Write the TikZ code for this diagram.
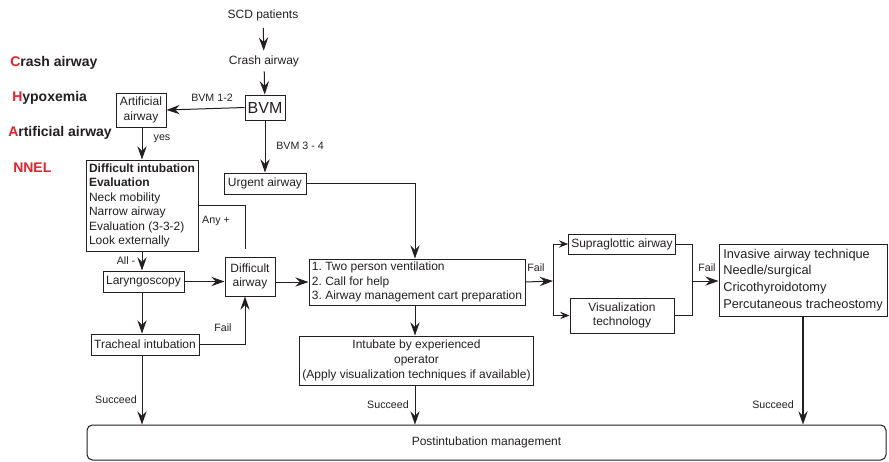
\documentclass[tikz,border=0pt]{standalone}
\usepackage{fontspec}
\setmainfont{Liberation Sans}
\usetikzlibrary{arrows.meta}
\definecolor{ChaRed}{HTML}{E8202A}
\definecolor{ChaInk}{HTML}{231F20}
\frenchspacing

\begin{document}
\begin{tikzpicture}[x=0.75pt, y=-0.75pt, font=\fontsize{9}{10.9}\selectfont, color=ChaInk,
    box/.style={draw, line width=0.75pt, inner sep=2pt, align=center},
    lbl/.style={font=\fontsize{8}{9.6}\selectfont, inner sep=1pt},
    side/.style={anchor=west, font=\fontsize{10.5}{12}\selectfont\bfseries, inner sep=0pt},
    arr/.style={line width=0.75pt, -{Stealth[length=10pt, width=7pt, inset=3.5pt]}},
    arrsmall/.style={line width=0.75pt, -{Stealth[length=7pt, width=5.5pt, inset=2.5pt]}},
    wire/.style={line width=0.75pt}]

    \useasboundingbox (0,0) rectangle (889,461);

    % CHAN mnemonic on the left
    \node (sideC) [side] at (10,63) {\textcolor{ChaRed}{C}rash airway};
    \node (sideH) [side] at (12,98) {\textcolor{ChaRed}{H}ypoxemia};
    \node (sideA) [side] at (8,133) {\textcolor{ChaRed}{A}rtificial airway};
    \node (sideN) [side] at (13,168) {\textcolor{ChaRed}{NNEL}};

    % flow nodes
    \node (SCD) at (263,15) {SCD patients};
    \node (Crash) at (264,61) {Crash airway};
    \node (BVM) [box, minimum width=30pt, minimum height=18.75pt, font=\fontsize{12}{14}\selectfont] at (265,107.5) {BVM};
    \node (Art) [box, minimum width=37.5pt, minimum height=25.5pt] at (141,110) {Artificial\\airway};
    \node (DiffEval) [box, align=left, minimum width=84pt, minimum height=68.25pt] at (142,205.5)
        {\textbf{Difficult intubation}\\\textbf{Evaluation}\\Neck mobility\\Narrow airway\\Evaluation (3-3-2)\\Look externally};
    \node (Urgent) [box, minimum width=61.5pt, minimum height=15.75pt] at (265,183.5) {Urgent airway};
    \node (Laryngo) [box, minimum width=60.75pt, minimum height=15.75pt] at (143.5,281.5) {Laryngoscopy};
    \node (DiffAirway) [box, minimum width=37.5pt, minimum height=29.25pt] at (250,276.5) {Difficult\\airway};
    \node (Prep) [box, align=left, minimum width=162pt, minimum height=34.5pt] at (417,282)
        {1. Two person ventilation\\2. Call for help\\3. Airway management cart preparation};
    \node (Tracheal) [box, minimum width=81pt, minimum height=15.75pt] at (145,344.5) {Tracheal intubation};
    \node (Intubate) [box, minimum width=174.75pt, minimum height=36.75pt, font=\fontsize{9}{11.2}\selectfont] at (416.5,360.5)
        {Intubate by experienced\\operator\\(Apply visualization techniques if available)};
    \node (Supra) [box, minimum width=79.5pt, minimum height=15pt] at (622,244) {Supraglottic airway};
    \node (Visual) [box, minimum width=78pt, minimum height=26.25pt] at (622,315.5) {Visualization\\technology};
    \node (Invasive) [box, align=left, minimum width=126pt, minimum height=54pt, font=\fontsize{9.6}{12.5}\selectfont] at (803,280)
        {Invasive airway technique\\Needle/surgical\\Cricothyroidotomy\\Percutaneous tracheostomy};
    \node (Post) [box, rounded corners=4pt, minimum width=599.25pt, minimum height=26.25pt] at (486.5,442.5) {Postintubation management};

    % connectors
    \draw [arr, shorten <=2pt] (SCD) -- (Crash);
    \draw [arr] (Crash) -- (BVM);
    \draw [arr] (BVM.west) -- (Art.east);
    \draw [arr] (Art.south -| DiffEval.north) -- (DiffEval.north);
    \draw [arr] (BVM.south) -- (Urgent.north);
    \draw [arr] (Urgent.east) -| ([xshift=-1.5pt]Prep.north);
    \coordinate (anyEnd) at (245,249);
    \draw [wire] (DiffEval.east) -| (anyEnd);
    \draw [arr] (DiffEval.south) -- (DiffEval.south |- Laryngo.north);
    \draw [arr] (Laryngo.east) -- (Laryngo.east -| DiffAirway.west);
    \draw [arr] (Prep.west -| DiffAirway.east) -- (Prep.west);
    \draw [arr] (Laryngo.south -| DiffEval.south) -- (DiffEval.south |- Tracheal.north);
    \draw [arr] (Tracheal.east) -| ([xshift=-3.75pt]DiffAirway.south);
    \draw [arr] ([xshift=-1.5pt]Prep.south) -- ([xshift=-1.5pt]Prep.south |- Intubate.north);
    \draw [arr] ([xshift=-1.5pt]Prep.south |- Intubate.south) -- ([xshift=-1.5pt]Prep.south |- Post.north);
    \draw [arr] (DiffEval.south |- Tracheal.south) -- (DiffEval.south |- Post.north);
    \coordinate (split) at (553,281);
    \draw [arr] (Prep.east) -- (split);
    \draw [wire] (split |- Supra.west) -- (split |- Visual.west);
    \draw [arrsmall] (split |- Supra.west) -- (Supra.west);
    \draw [arrsmall] (split |- Visual.west) -- (Visual.west);
    \coordinate (join) at (692,281);
    \draw [wire] (Supra.east) -| (join |- Visual.east) -- (Visual.east);
    \draw [arr] (join) -- (join -| Invasive.west);
    \draw [arr, line width=1.3pt] (Invasive.south) -- (Invasive.south |- Post.north);

    % connector labels
    \node (lblBVM12) [lbl] at (212,98) {BVM 1-2};
    \node (lblYes) [lbl] at (162,139) {yes};
    \node (lblBVM34) [lbl] at (300,146) {BVM 3 - 4};
    \node (lblAny) [lbl] at (216,221) {Any +};
    \node (lblAll) [lbl] at (126,261) {All -};
    \node (lblFailA) [lbl] at (223,328) {Fail};
    \node (lblFailB) [lbl] at (536,268) {Fail};
    \node (lblFailC) [lbl] at (707,268) {Fail};
    \node (lblSucA) [lbl] at (116,400) {Succeed};
    \node (lblSucB) [lbl] at (388,405) {Succeed};
    \node (lblSucC) [lbl] at (773,405) {Succeed};
\end{tikzpicture}
\end{document}
